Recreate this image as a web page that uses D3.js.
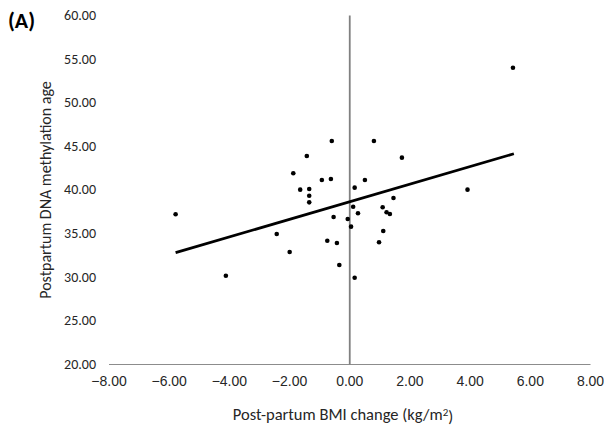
<!DOCTYPE html>
<html>
<head>
<meta charset="utf-8">
<script src="https://cdn.jsdelivr.net/npm/d3@7"></script>
<style>
  html, body { margin: 0; padding: 0; background: #fff; }
  svg { display: block; font-family: Calibri, Carlito, "Open Sans", "Liberation Sans", Arial, sans-serif; }
</style>
</head>
<body>
<svg id="chart" width="604" height="428"></svg>
<script>
// Data
const bmiChange = [-5.77, -4.10, -2.41, -1.98, -1.63, -1.33, -1.33, -1.33, -1.41, -1.86,
  -0.58, -0.91, -0.61, 0.82, 1.75, 0.52, 0.18, 1.47, 0.13, 0.29,
  1.11, 1.24, 1.35, -0.52, -0.05, 0.06, 1.13, -0.73, -0.41, 0.99,
  -0.33, 0.18, 5.44, 3.93];
const methylAge = [37.16, 30.12, 34.90, 32.84, 39.98, 40.06, 39.29, 38.53, 43.84, 41.86,
  45.56, 41.09, 41.20, 45.56, 43.65, 41.09, 40.21, 39.03, 38.03, 37.27,
  37.96, 37.39, 37.19, 36.85, 36.62, 35.74, 35.24, 34.13, 33.87, 33.95,
  31.35, 29.89, 53.96, 39.98];
const trendX = [-5.77, 5.47];
const trendY = [32.76, 44.10];
const xTicks = [-8, -6, -4, -2, 0, 2, 4, 6, 8];
const yTicks = [20, 25, 30, 35, 40, 45, 50, 55, 60];
const xTitleMain = "Post-partum BMI change (kg/m";
const xTitleSup = "2";
const xTitleEnd = ")";
const yTitle = "Postpartum DNA methylation age";
const panelLabel = "(A)";

const svg = d3.select("#chart");
const x = d3.scaleLinear().domain([-8, 8]).range([108.5, 590]);
const y = d3.scaleLinear().domain([20, 60]).range([364, 15]);
const fmt = d3.format(".2f");
const fmtX = v => (v < 0 ? "\u2212" + fmt(-v) : fmt(v));

// x axis (baseline at y=20)
const xAxis = d3.axisBottom(x).tickValues(xTicks).tickSize(0).tickPadding(12).tickFormat(fmtX);
const gx = svg.append("g").attr("transform", `translate(0,${y(20)})`).call(xAxis);
gx.select(".domain").attr("stroke", "#8c8c8c").attr("stroke-width", 1.2);
gx.selectAll("text").attr("font-size", 14).attr("fill", "#262626").attr("font-family", "inherit");

// y axis (crossing at x=0), labels on the left of the plot
const gy = svg.append("g").attr("transform", `translate(${x(0)},0)`)
  .call(d3.axisLeft(y).tickValues(yTicks).tickSize(0).tickFormat(() => ""));
gy.select(".domain").attr("stroke", "#808080").attr("stroke-width", 1.8);
svg.append("g").selectAll("text").data(yTicks).join("text")
  .attr("x", 96).attr("y", d => y(d)).attr("dy", "0.35em")
  .attr("text-anchor", "end").attr("font-size", 14).attr("fill", "#262626")
  .text(fmt);

// trend line
svg.append("line")
  .attr("x1", x(trendX[0])).attr("y1", y(trendY[0]))
  .attr("x2", x(trendX[1])).attr("y2", y(trendY[1]))
  .attr("stroke", "#000").attr("stroke-width", 2.8);

// points
svg.append("g").selectAll("circle").data(bmiChange.map((d, i) => [d, methylAge[i]])).join("circle")
  .attr("cx", d => x(d[0])).attr("cy", d => y(d[1])).attr("r", 2.3).attr("fill", "#000");

// titles
const xt = svg.append("text").attr("x", 343).attr("y", 414.5).attr("dy", "0.35em")
  .attr("text-anchor", "middle").attr("font-size", 16.5).attr("fill", "#262626");
xt.append("tspan").text(xTitleMain);
xt.append("tspan").attr("dy", "-0.4em").attr("font-size", 11).text(xTitleSup);
xt.append("tspan").attr("dy", "0.4em").text(xTitleEnd);
svg.append("text").attr("transform", `translate(45,190) rotate(-90)`).attr("dy", "0.35em")
  .attr("text-anchor", "middle").attr("font-size", 16).attr("fill", "#262626")
  .text(yTitle);
svg.append("text").attr("x", 8).attr("y", 20).attr("dy", "0.35em")
  .attr("font-size", 22).attr("font-weight", "bold").attr("fill", "#000")
  .text(panelLabel);
</script>
</body>
</html>
